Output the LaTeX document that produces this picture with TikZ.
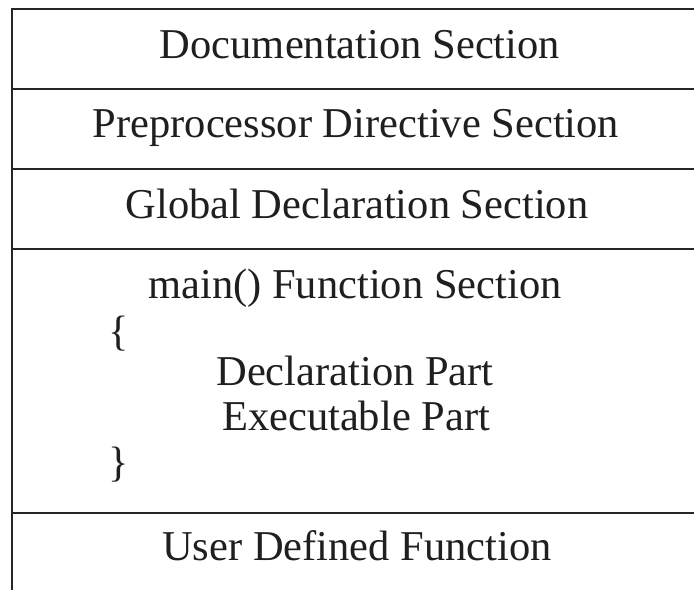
\documentclass[tikz,border=0pt]{standalone}
\usepackage{fontspec}
\setmainfont{Liberation Serif}
\begin{document}
\begin{tikzpicture}[x=1pt,y=-1pt,
  rule/.style={line width=2pt,draw=black!85},
  label/.style={anchor=base,inner sep=0pt,font=\fontsize{42.5}{50}\selectfont,text=black!88}]
\useasboundingbox (0,0) rectangle (694,590);
\fill[white] (0,0) rectangle (694,590);
% outline: top rule and left side, open at right and bottom
\draw[rule] (694,9) -- (12,9) -- (12,590);
% section dividers
\foreach \y in {89,169,249,513} \draw[rule] (12,\y) -- (694,\y);
% section titles
\node[label] (doc) at (360,58) {Documentation Section};
\node[label] (pre) at (356,137) {Preprocessor Directive Section};
\node[label] (glob) at (357,218) {Global Declaration Section};
\node[label] (mainf) at (355,298) {main() Function Section};
\node[label,anchor=base west] (lb) at (108,345) {\{};
\node[label] (decl) at (355,385) {Declaration Part};
\node[label] (exec) at (356,430) {Executable Part};
\node[label,anchor=base west] (rb) at (108,476) {\}};
\node[label] (user) at (357,560) {User Defined Function};
\end{tikzpicture}
\end{document}
